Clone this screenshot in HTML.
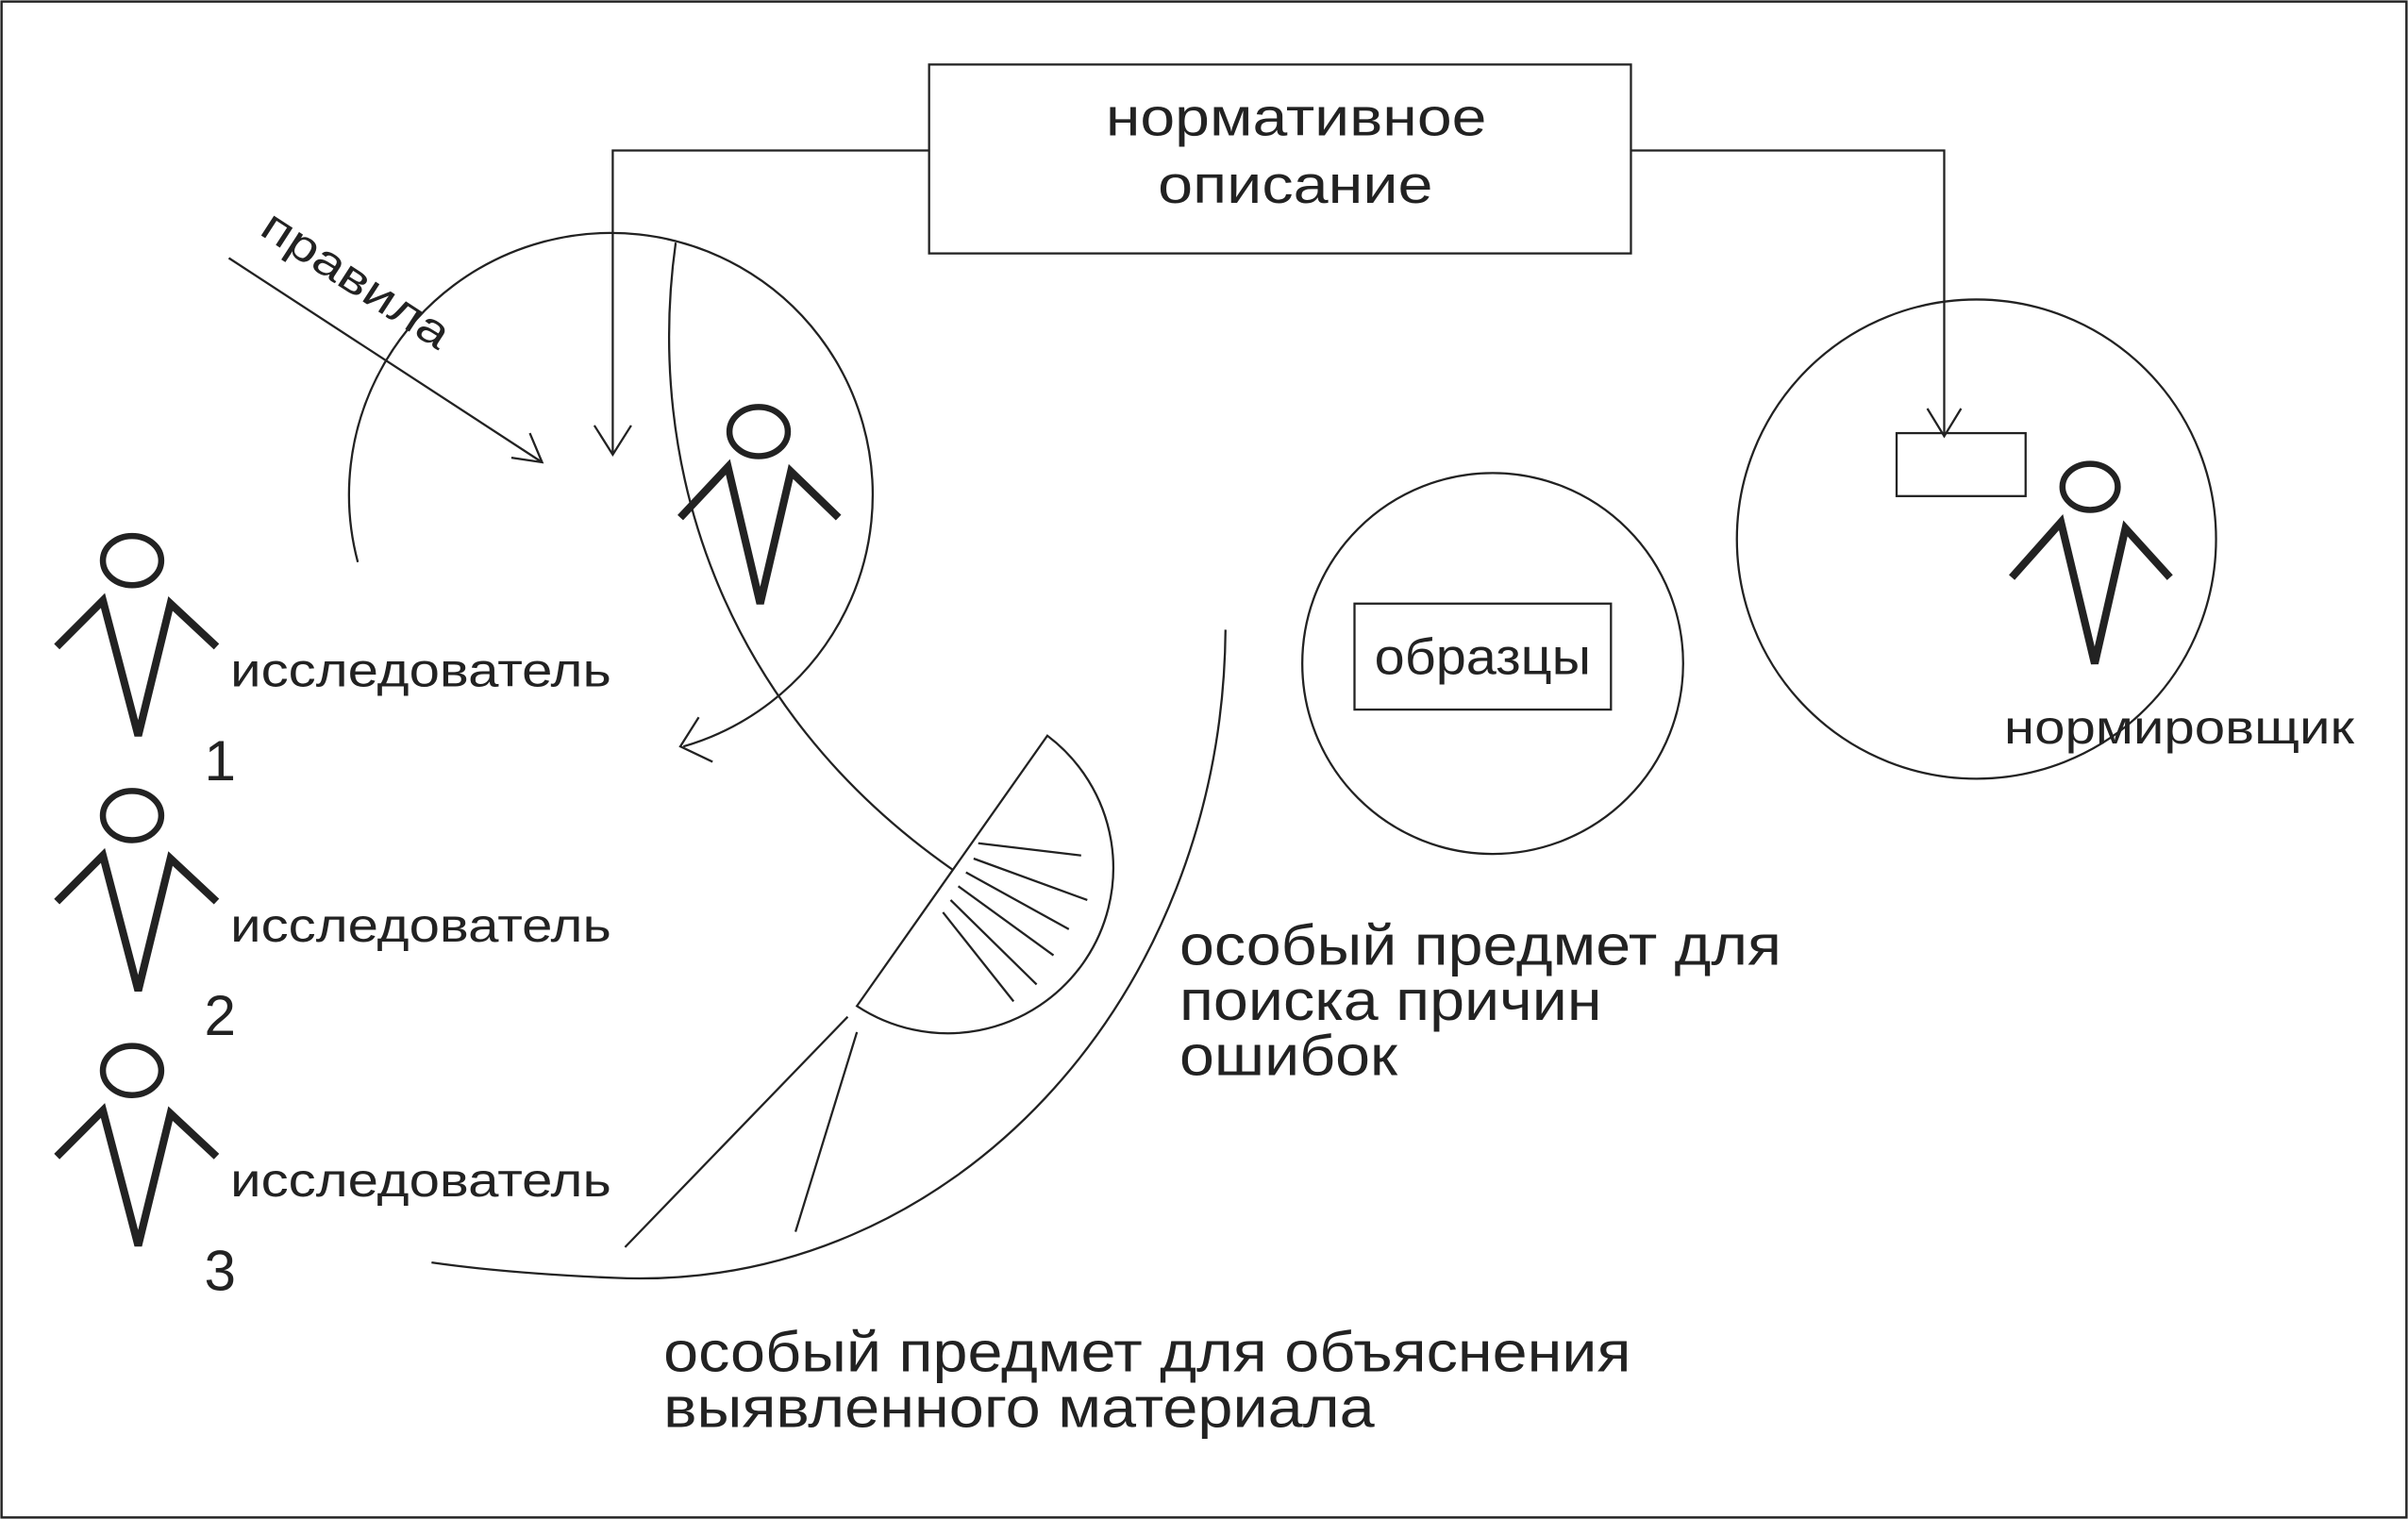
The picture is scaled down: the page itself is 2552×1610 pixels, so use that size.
<!DOCTYPE html>
<html><head><meta charset="utf-8"><style>html,body{margin:0;padding:0;background:#fff}svg{display:block}</style></head><body>
<svg width="2552" height="1610" viewBox="0 0 1568 989" preserveAspectRatio="none" xmlns="http://www.w3.org/2000/svg" font-family="Liberation Sans, DejaVu Sans, sans-serif" fill="none" stroke="#222">
<rect x="1" y="1" width="1566" height="987" stroke-width="1.5"/>
<g stroke-width="1.4">
<rect x="605" y="42" width="457" height="123"/>
<polyline points="605,98 399,98 399,296"/>
<polyline points="387,277 399,296 411,277"/>
<polyline points="1062,98 1266,98 1266,284"/>
<polyline points="1255,266 1266,284 1277,266"/>
<rect x="1235" y="282" width="84" height="41"/>
<circle cx="1287" cy="351" r="156"/>
<circle cx="972" cy="432" r="124"/>
<rect x="882" y="393" width="167" height="69"/>
<path d="M233,366 A170.5,170.5 0 1 1 445,486"/>
<polyline points="455,467 443,486 464,496"/>
<path d="M440,158 C420,300 468,460 620,566"/>
<path d="M798,410 C796,650 620,842 400,832 Q330,829 281,822"/>
<path d="M682,479 A107.7,107.7 0 0 1 558,655 Z"/>
<line x1="637" y1="549" x2="704" y2="557"/>
<line x1="634" y1="559" x2="708" y2="586"/>
<line x1="629" y1="568" x2="696" y2="605"/>
<line x1="624" y1="577" x2="686" y2="622"/>
<line x1="619" y1="586" x2="675" y2="641"/>
<line x1="614" y1="594" x2="660" y2="652"/>
<line x1="552" y1="662" x2="407" y2="812"/>
<line x1="558" y1="672" x2="518" y2="802"/>
<line x1="149" y1="168" x2="353" y2="301"/>
<polyline points="333,298 353,301 345,282"/>
</g>
<g stroke-width="5" stroke="#222">
<ellipse cx="494" cy="281" rx="19" ry="16" stroke-width="4"/>
<polyline points="443,337 474,304 495,393 515,307 546,337"/>
<ellipse cx="1361" cy="317" rx="18" ry="15" stroke-width="4"/>
<polyline points="1310,376 1342,340 1364,432 1384,344 1413,376"/>
<ellipse cx="86" cy="365" rx="19" ry="16" stroke-width="4"/>
<polyline points="37,421 67,391 90,479 111,393 141,421"/>
<ellipse cx="86" cy="531" rx="19" ry="16" stroke-width="4"/>
<polyline points="37,587 67,557 90,645 111,559 141,587"/>
<ellipse cx="86" cy="697" rx="19" ry="16" stroke-width="4"/>
<polyline points="37,753 67,723 90,811 111,725 141,753"/>
</g>
<g fill="#222" stroke="none" lengthAdjust="spacingAndGlyphs">
<text x="720" y="88" font-size="35" textLength="248" lengthAdjust="spacingAndGlyphs">нормативное</text>
<text x="754" y="132" font-size="35" textLength="179" lengthAdjust="spacingAndGlyphs">описание</text>
<text x="895" y="439" font-size="33" textLength="141" lengthAdjust="spacingAndGlyphs">образцы</text>
<text x="1305" y="484" font-size="31" textLength="228" lengthAdjust="spacingAndGlyphs">нормировщик</text>
<text x="168" y="152" font-size="29" transform="rotate(33 168 152)" textLength="140" lengthAdjust="spacingAndGlyphs">правила</text>
<text x="150" y="447" font-size="31" textLength="248" lengthAdjust="spacingAndGlyphs">исследователь</text>
<text x="133" y="508" font-size="37">1</text>
<text x="150" y="613" font-size="31" textLength="248" lengthAdjust="spacingAndGlyphs">исследователь</text>
<text x="133" y="674" font-size="37">2</text>
<text x="150" y="779" font-size="31" textLength="248" lengthAdjust="spacingAndGlyphs">исследователь</text>
<text x="133" y="840" font-size="37">3</text>
<text x="768" y="628" font-size="37" textLength="392" lengthAdjust="spacingAndGlyphs">особый предмет для</text>
<text x="768" y="664" font-size="37" textLength="275" lengthAdjust="spacingAndGlyphs">поиска причин</text>
<text x="768" y="700" font-size="37" textLength="142" lengthAdjust="spacingAndGlyphs">ошибок</text>
<text x="432" y="893" font-size="37" textLength="630" lengthAdjust="spacingAndGlyphs">особый предмет для объяснения</text>
<text x="432" y="929" font-size="37" textLength="463" lengthAdjust="spacingAndGlyphs">выявленного материала</text>
</g>
</svg>
</body></html>
